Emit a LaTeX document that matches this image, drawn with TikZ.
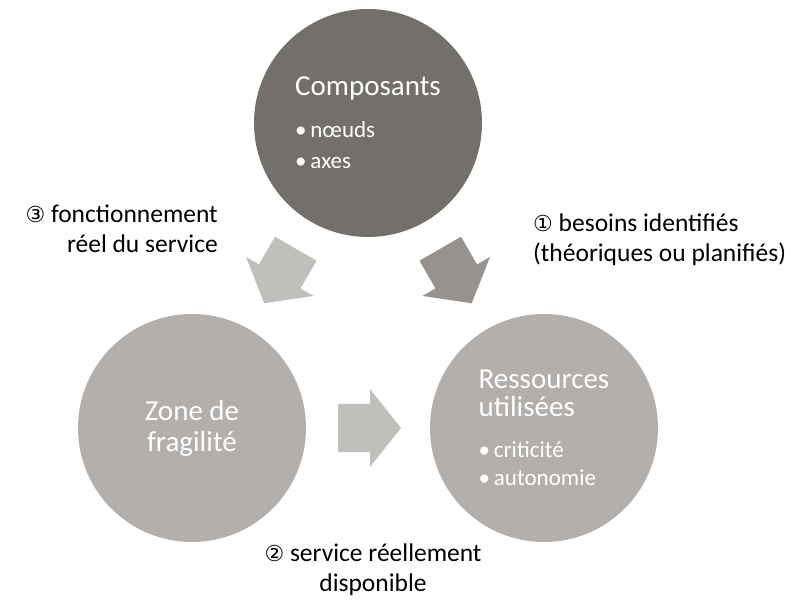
\documentclass[tikz,border=0pt]{standalone}
\usepackage{fontspec}
\setmainfont{Carlito}
\newfontfamily\circfont{DejaVu Sans}
\usetikzlibrary{positioning}
\definecolor{compgray}{HTML}{736F6A}
\definecolor{ringgray}{HTML}{B3AFAC}
\definecolor{paleshaft}{HTML}{C0BFBB}
\definecolor{midshaft}{HTML}{97928E}
\newcommand{\titlesize}{\fontsize{29}{31}\selectfont}
\newcommand{\itemsize}{\fontsize{23}{31}\selectfont}
\newcommand{\circnum}[1]{{\circfont\fontsize{22}{31}\selectfont #1}}

\begin{document}
\begin{tikzpicture}[
    x=1pt, y=1pt,
    circ/.style={circle, minimum size=228pt, inner sep=0pt, text=white, font=\fontsize{23}{31}\selectfont},
    lbl/.style={font=\fontsize{25.5}{30}\selectfont, text=black, inner sep=0pt},
    blockarrow/.pic={\fill (-31.5,-24) -- (0.5,-24) -- (0.5,-39) -- (31.5,0) -- (0.5,39) -- (0.5,24) -- (-31.5,24) -- cycle;}
]
    \useasboundingbox (0,0) rectangle (798,601);

    % the three circles
    \node[circ, fill=compgray, align=left] (comp) at (368,478)
        {\titlesize Composants\\[11pt]\itemsize •\,nœuds\\\itemsize •\,axes};
    \node[circ, fill=ringgray, align=center] (zone) at (192,173)
        {\titlesize Zone de\\\titlesize fragilité};
    \node[circ, fill=ringgray, align=left, font=\fontsize{23}{28}\selectfont] (ress) at (544,173)
        {\titlesize Ressources\\\titlesize utilisées\\[13pt]\itemsize •\,criticité\\\itemsize •\,autonomie};

    % block arrows between the circles
    \pic[fill=paleshaft, rotate=-120] at (280,325) {blockarrow};
    \pic[fill=midshaft, rotate=-60] at (456,325) {blockarrow};
    \pic[fill=paleshaft] at (369.5,173) {blockarrow};

    \node[lbl, anchor=base east, align=right] (lblthree) at (218,348)
        {\circnum{③} fonctionnement\\réel du service};
    \node[lbl, anchor=base west, align=left] (lblone) at (533,339)
        {\circnum{①} besoins identifiés\\(théoriques ou planifiés)};
    \node[lbl, anchor=base, align=center] (lbltwo) at (373,9)
        {\circnum{②} service réellement\\disponible};
\end{tikzpicture}
\end{document}
